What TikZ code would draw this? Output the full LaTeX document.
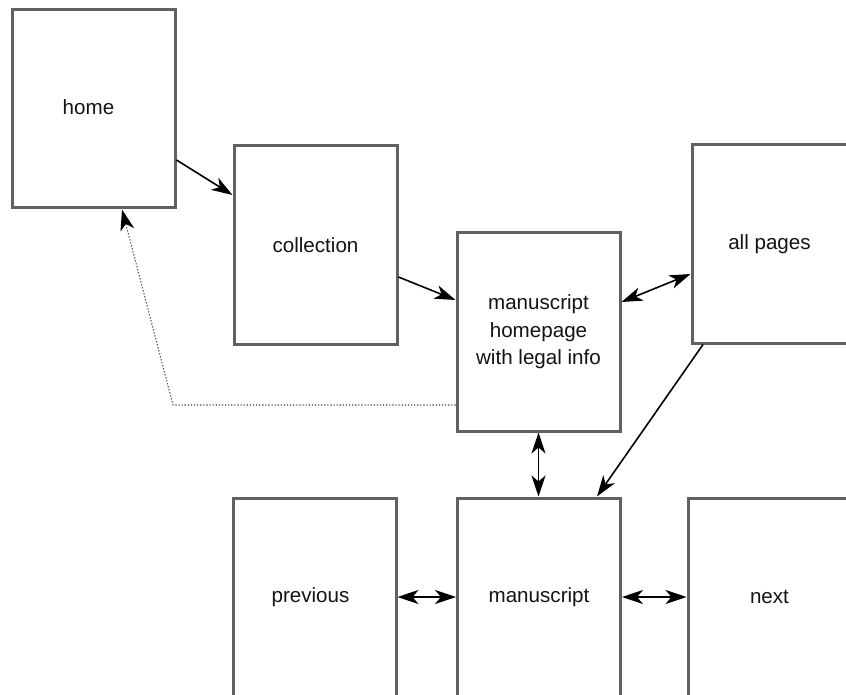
\documentclass[tikz,border=0pt]{standalone}
\usepackage{fontspec}
\setmainfont{Liberation Sans}
\usetikzlibrary{arrows.meta}
\begin{document}
\begin{tikzpicture}[x=1pt,y=-1pt,
  page/.style={draw=black!62, line width=3pt, fill=white, inner sep=0pt,
    minimum width=163pt, minimum height=198pt, align=center,
    text=black!92, font=\fontsize{20.6}{27.5}\selectfont},
  tip/.style={Stealth[length=21pt,width=14pt,inset=6pt]},
  link/.style={line width=1.6pt, -{Stealth[length=21pt,width=14pt,inset=6pt]}},
  both/.style={line width=1.6pt, {Stealth[length=21pt,width=14pt,inset=6pt]}-{Stealth[length=21pt,width=14pt,inset=6pt]}},
  back/.style={line width=1.1pt, black!80, dotted, -{Stealth[length=21pt,width=14pt,inset=6pt,black]}}]
  \useasboundingbox (0,0) rectangle (846,695);
  \fill[white] (0,0) rectangle (846,695);
  \clip (0,0) rectangle (846,695);

  % pages
  \node[page] (home)       at (93.5,109)  {\raisebox{3pt}{home}\hspace*{10pt}};
  \node[page] (collection) at (315.5,245) {\raisebox{-2pt}{collection}};
  \node[page] (homepage)   at (538.5,332) {manuscript\\homepage\\with legal info};
  \node[page] (allpages)   at (773.5,244) {\hspace*{-8pt}\raisebox{-4pt}{all pages}};
  \node[page] (previous)   at (314.5,597) {\hspace*{-8pt}\raisebox{-3pt}{previous}};
  \node[page] (manuscript) at (539,597)   {\raisebox{-2pt}{manuscript}};
  \node[page] (next)       at (769.5,597) {\raisebox{-2pt}{next}};

  % navigation links
  \draw[link] ([yshift=-51pt]home.east) -- ([yshift=50pt]collection.west);
  \draw[link] ([yshift=-32pt]collection.east) -- ([yshift=32pt]homepage.west);
  \draw[both] ([yshift=30pt]homepage.east) -- ([yshift=-30pt]allpages.west);
  \draw[both] (homepage.south) -- (homepage.south |- manuscript.north);
  \draw[link] ([xshift=-70.5pt]allpages.south) -- ([xshift=58pt]manuscript.north);
  \draw[both] (previous.east) -- (manuscript.west);
  \draw[both] (manuscript.east) -- (next.west);

  % return link to the home page
  \coordinate (bend) at (173,405);
  \draw[back] ([yshift=-73pt]homepage.west) -- (bend) -- ([xshift=28.5pt]home.south);
\end{tikzpicture}
\end{document}
